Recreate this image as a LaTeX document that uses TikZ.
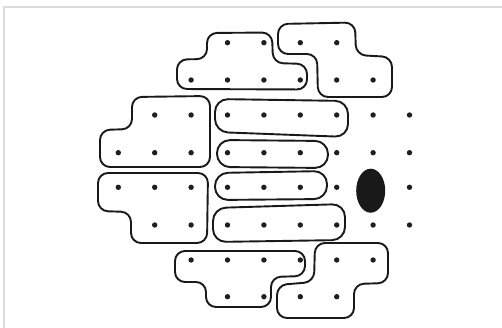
\documentclass[tikz,border=0pt]{standalone}
\begin{document}
\begin{tikzpicture}[x=1pt,y=-1pt,
  blob/.style={draw=black!90,line width=1.9pt,rounded corners=10pt,line join=round},
  pill/.style={draw=black!90,line width=1.9pt,rounded corners=13pt,line join=round},
  dotmark/.style={fill=black!88},
  frameline/.style={draw=black!14,line width=2pt}]
\useasboundingbox (0,0) rectangle (502,328);
\fill[white] (0,0) rectangle (502,328);
% frame
\draw[frameline] (4.3,328) -- (4.3,7.5) -- (502,7.5);
% dots
\foreach \c/\r in {3/0,4/0,5/0,6/0,
  2/1,3/1,4/1,5/1,6/1,7/1,
  1/2,2/2,3/2,4/2,5/2,6/2,7/2,8/2,
  0/3,1/3,2/3,3/3,4/3,5/3,6/3,7/3,8/3,
  0/4,1/4,2/4,3/4,4/4,5/4,6/4,8/4,
  1/5,2/5,3/5,4/5,5/5,6/5,7/5,8/5,
  2/6,3/6,4/6,5/6,6/6,7/6,
  3/7,4/7,5/7,6/7}{
  \pgfmathsetmacro{\xx}{118.3+36.4*\c}
  \pgfmathsetmacro{\yy}{{42.7,80,115,152.7,187.3,225,260,296.7}[\r]}
  \fill[dotmark] (\xx,\yy) circle (2.7);
}
% ellipse
\fill[black!90] (370.7,190.7) ellipse (14.5 and 22);
% A
\draw[blob] (207,33) -- (272,32.5) -- (273,63) -- (307,64) -- (307,89.5) -- (177,89) -- (177,59.5) -- (207,59) -- cycle;
% B
\draw[blob] (278,24) -- (355,22.5) -- (356,55) -- (392,57) -- (392,97) -- (318,97) -- (317,54) -- (278,54) -- cycle;
% C
\draw[blob] (132,97) -- (210,96) -- (210,167) -- (100,167) -- (100,130) -- (132,129) -- cycle;
% D
\draw[pill] (215,99) -- (348,101) -- (348,137) -- (215,132) -- cycle;
% E
\draw[pill] (217,140) -- (328,141) -- (328,168) -- (217,167) -- cycle;
% F
\draw[pill] (215,173) -- (327,171) -- (327,199) -- (215,200) -- cycle;
% G
\draw[pill] (213,208) -- (345,204) -- (345,240) -- (213,242) -- cycle;
% H
\draw[blob] (98,173) -- (208,173) -- (207,243) -- (131,243) -- (131,212) -- (98,211) -- cycle;
% I
\draw[blob] (175,251) -- (305,251) -- (305,276) -- (271,277) -- (271,307) -- (206,307) -- (206,282) -- (175,282) -- cycle;
% J
\draw[blob] (315,243) -- (388,243) -- (388,283) -- (354,284) -- (354,318) -- (277,318) -- (277,285) -- (314,282) -- cycle;
\end{tikzpicture}
\end{document}
